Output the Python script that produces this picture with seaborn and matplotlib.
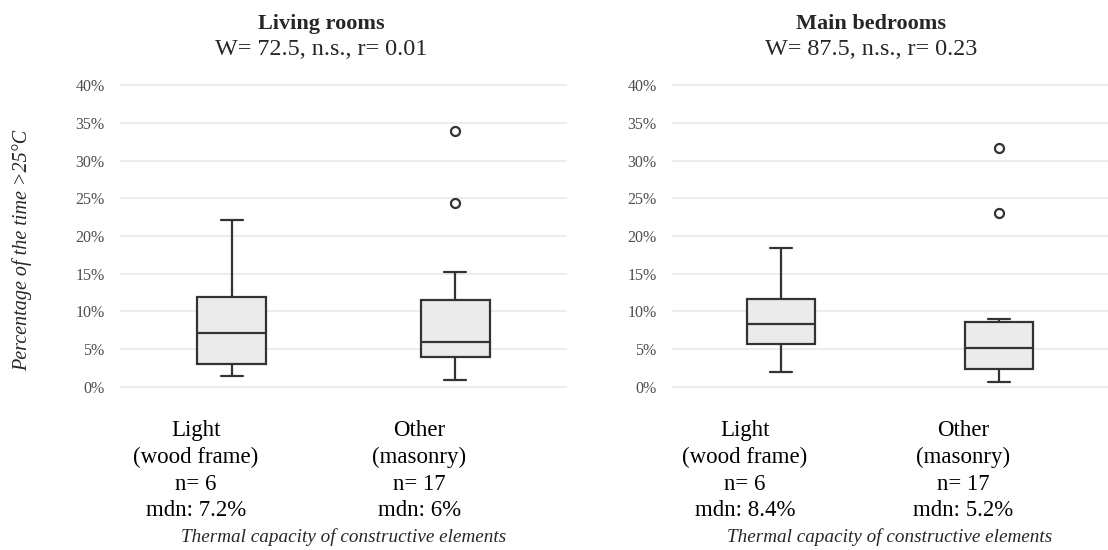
import numpy as np
import pandas as pd
import matplotlib
matplotlib.use("Agg")
import matplotlib.pyplot as plt
import seaborn as sns

# Share of occupied hours above 25 °C (%), per dwelling
groups = ["Light\n(wood frame)", "Other\n(masonry)"]

living_light = [1.5, 2.6, 4.6, 9.8, 12.6, 22.1]
living_other = [0.9, 2.1, 2.9, 3.5, 4.0, 4.6, 5.2, 5.7, 6.0, 7.4, 8.8,
                10.3, 11.5, 13.1, 15.2, 24.4, 33.9]
bedroom_light = [2.0, 5.5, 6.3, 10.5, 12.0, 18.4]
bedroom_other = [0.7, 1.1, 1.6, 2.0, 2.4, 3.1, 3.8, 4.5, 5.2, 5.9, 6.7,
                 7.6, 8.6, 8.8, 9.0, 23.0, 31.6]

panel_titles = ["Living rooms", "Main bedrooms"]
panel_stats = ["W= 72.5, n.s., r= 0.01", "W= 87.5, n.s., r= 0.23"]
y_ticks = [0, 5, 10, 15, 20, 25, 30, 35, 40]

sns.set_theme(style="whitegrid")
plt.rcParams["font.family"] = ["Liberation Serif", "DejaVu Serif"]

W, H = 1108, 550
fig = plt.figure(figsize=(W / 100, H / 100), dpi=100)


def px_axes(x0, x1, y0, y1):
    return fig.add_axes([x0 / W, 1 - y1 / H, (x1 - x0) / W, (y1 - y0) / H])


def long_form(light, other):
    return pd.DataFrame({
        "group": [groups[0]] * len(light) + [groups[1]] * len(other),
        "pct": light + other,
    })


panels = [
    (long_form(living_light, living_other), (120, 567), 321.5),
    (long_form(bedroom_light, bedroom_other), (672, 1108), 871.5),
]

for i, (df, (x0, x1), title_x) in enumerate(panels):
    ax = px_axes(x0, x1, 75, 397)
    sns.boxplot(
        data=df, x="group", y="pct", order=groups, ax=ax,
        width=0.31, color="#ebebeb", saturation=1, linecolor="#333333",
        linewidth=1.6, capwidths=0.1,
        flierprops=dict(marker="o", markersize=6.5, markerfacecolor="none",
                        markeredgecolor="#333333", markeredgewidth=1.6),
    )
    ax.set_ylim(-1.325, 41.325)
    ax.set_xlim(-0.5, 1.5)
    ax.set_yticks(y_ticks)
    ax.set_yticklabels([f"{t}%" for t in y_ticks])
    meds = [np.median(df.loc[df.group == g, "pct"]) for g in groups]
    ns = [int((df.group == g).sum()) for g in groups]
    # category labels sit about 36 px left of their boxes
    shift = 36 / ((x1 - x0) / 2)
    ax.set_xticks([0 - shift, 1 - shift])
    ax.set_xticklabels(
        [f"{g}\nn= {n}\nmdn: {m:g}%" for g, n, m in zip(groups, ns, meds)],
        fontsize=16.5, color="black", linespacing=1.36,
    )
    ax.tick_params(axis="x", length=0, pad=16.5)
    ax.tick_params(axis="y", length=0, pad=11, labelsize=11.5,
                   labelcolor="#4d4d4d")
    ax.grid(axis="x", visible=False)
    ax.grid(axis="y", color="#ebebeb", linewidth=1.3)
    for s in ax.spines.values():
        s.set_visible(False)
    ax.set_xlabel("")
    ax.set_ylabel("")

    fig.text(title_x / W, 1 - 29 / H, panel_titles[i], ha="center",
             va="baseline", fontsize=16, fontweight="bold")
    fig.text(title_x / W, 1 - 55 / H, panel_stats[i], ha="center",
             va="baseline", fontsize=17.4)
    fig.text((x0 + x1) / 2 / W, 1 - 542 / H,
             "Thermal capacity of constructive elements", ha="center",
             va="baseline", fontsize=13.8, style="italic")

fig.text(22 / W, 1 - 250 / H, "Percentage of the time >25°C", rotation=90,
         ha="center", va="center", fontsize=14.5, style="italic")

fig.savefig("out.png", dpi=100, facecolor="white")
